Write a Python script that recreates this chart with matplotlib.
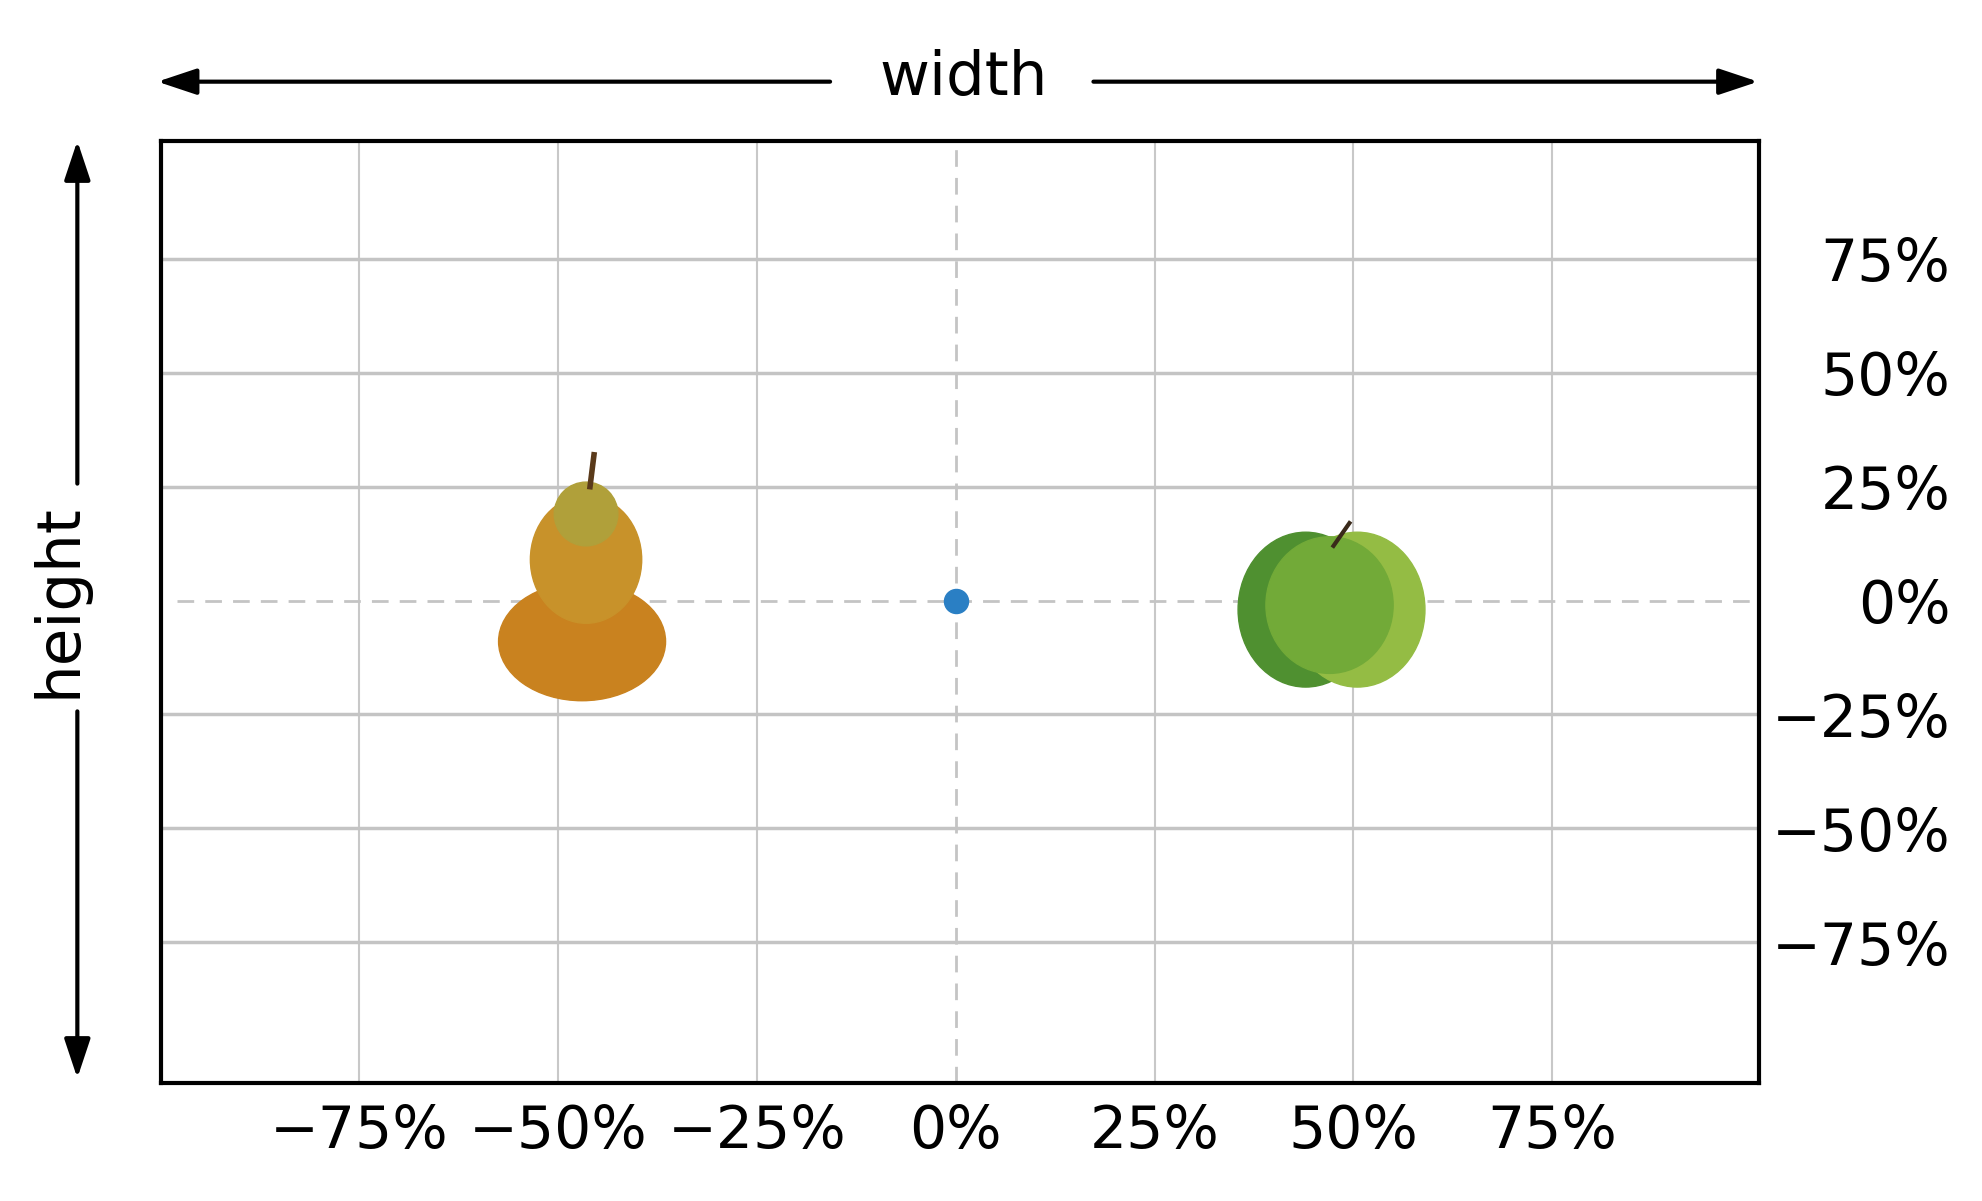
import matplotlib
matplotlib.use("Agg")
import matplotlib.pyplot as plt
from matplotlib.patches import Ellipse, FancyArrowPatch

x_ticks = [-75, -50, -25, 0, 25, 50, 75]
y_ticks = [-75, -50, -25, 0, 25, 50, 75]
tick_labels_x = ["\u221275%", "\u221250%", "\u221225%", "0%", "25%", "50%", "75%"]
tick_labels_y = ["\u221275%", "\u221250%", "\u221225%", "0%", "25%", "50%", "75%"]
center_point = (0, 0)
pear_pos = (-47, -3)
apple_pos = (47, -2)

fig = plt.figure(figsize=(19.83, 12.01), dpi=100)
ax = fig.add_axes([0.081, 0.098, 0.806, 0.785])
ax.set_xlim(-100, 101)
ax.set_ylim(-106, 101)
ax.set_xticks(x_ticks)
ax.set_yticks(y_ticks)
ax.set_xticklabels(tick_labels_x, fontsize=42)
ax.set_yticklabels(tick_labels_y, fontsize=42, ha="right")
ax.yaxis.tick_right()
ax.tick_params(axis="y", length=0, pad=138)
ax.tick_params(axis="x", length=0, pad=14)
for s in ax.spines.values():
    s.set_linewidth(3)
for t in x_ticks:
    if t != 0:
        ax.axvline(t, color="#c8c8c8", lw=1.5, zorder=1)
for t in y_ticks:
    if t != 0:
        ax.axhline(t, color="#c4c4c4", lw=2.5, zorder=1)
ax.axhline(0, xmin=0.01, color="#c4c4c4", lw=2, ls=(0, (6, 4)), zorder=1.5)
ax.axvline(0, color="#c4c4c4", lw=2, ls=(0, (6, 4)), zorder=1.5)
ax.scatter([center_point[0]], [center_point[1]], s=300, color="#2a7fc4", zorder=5)

# pear
px, py = pear_pos
ax.add_patch(Ellipse((px, py - 6), 21, 26, color="#c9821f", zorder=3))
ax.add_patch(Ellipse((px + 0.5, py + 12), 14, 28, color="#c8922a", zorder=3))
ax.add_patch(Ellipse((px + 0.5, py + 22), 8, 14, color="#b0a03a", zorder=3))
ax.plot([px + 1, px + 1.5], [py + 28, py + 35], color="#5a3a1a", lw=4, zorder=4)
# apple
axx, ay = apple_pos
ax.add_patch(Ellipse((axx - 3, ay), 17, 34, color="#4f9030", zorder=3))
ax.add_patch(Ellipse((axx + 3.5, ay), 17, 34, color="#94bc44", zorder=3))
ax.add_patch(Ellipse((axx, ay + 1), 16, 30, color="#72aa38", zorder=3))
ax.plot([axx + 0.5, axx + 2.5], [ay + 14, ay + 19], color="#3a2a1a", lw=3, zorder=4)

kw = dict(arrowstyle="-|>,head_length=1.2,head_width=0.4", color="black", lw=3)
fig.text(0.486, 0.935, "width", fontsize=44, ha="center", va="center")
fig.add_artist(FancyArrowPatch((0.42, 0.932), (0.078, 0.932), transform=fig.transFigure, mutation_scale=20, **kw))
fig.add_artist(FancyArrowPatch((0.55, 0.932), (0.888, 0.932), transform=fig.transFigure, mutation_scale=20, **kw))
fig.text(0.03, 0.50, "height", fontsize=44, ha="center", va="center", rotation=90)
fig.add_artist(FancyArrowPatch((0.039, 0.595), (0.039, 0.885), transform=fig.transFigure, mutation_scale=20, **kw))
fig.add_artist(FancyArrowPatch((0.039, 0.41), (0.039, 0.10), transform=fig.transFigure, mutation_scale=20, **kw))

fig.savefig("out.png", dpi=100, facecolor="white")
